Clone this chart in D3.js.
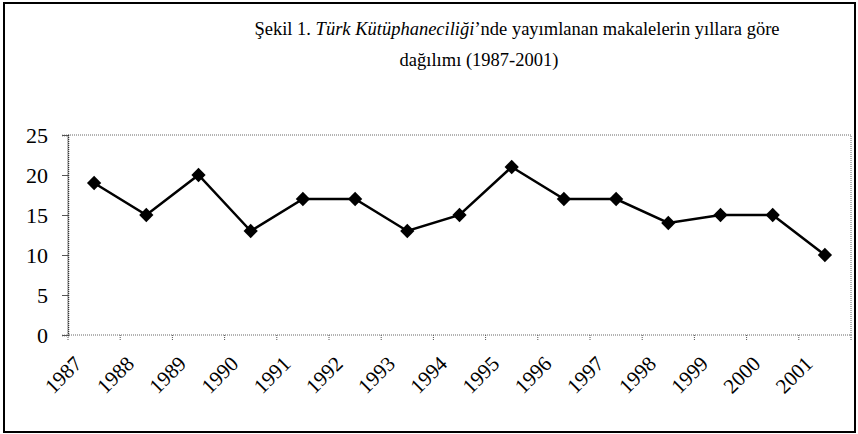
<!DOCTYPE html>
<html>
<head>
<meta charset="utf-8">
<script src="https://cdn.jsdelivr.net/npm/d3@7"></script>
<style>
  body { margin: 0; background: #fff; }
  svg text { font-family: "Liberation Serif", "Times New Roman", serif; fill: #000; }
</style>
</head>
<body>
<svg id="chart" width="858" height="434"></svg>
<script>
// data
var years = ['1987','1988','1989','1990','1991','1992','1993','1994','1995','1996','1997','1998','1999','2000','2001'];
var articles = [19, 15, 20, 13, 17, 17, 13, 15, 21, 17, 17, 14, 15, 15, 10];
var yTicks = [0, 5, 10, 15, 20, 25];

var svg = d3.select('#chart');
var svgWidth = +svg.attr('width');
var svgHeight = +svg.attr('height');

// outer frame
svg.append('rect')
    .attr('x', 4).attr('y', 3)
    .attr('width', svgWidth - 7).attr('height', svgHeight - 5)
    .attr('fill', 'none')
    .attr('stroke', '#000')
    .attr('stroke-width', 2);

// title (two lines)
var title = svg.append('text')
    .attr('text-anchor', 'middle')
    .attr('font-size', 18.5);
var line1 = title.append('tspan').attr('x', 517).attr('y', 35);
line1.append('tspan').text('Şekil 1. ');
line1.append('tspan').attr('font-style', 'italic').text('Türk Kütüphaneciliği');
line1.append('tspan').text('\u2019nde yayımlanan makalelerin yıllara göre');
title.append('tspan').attr('x', 479).attr('y', 66).text('dağılımı (1987-2001)');

var padding = {t: 135, r: 7, b: 99, l: 68};
var chartWidth = svgWidth - padding.l - padding.r;
var chartHeight = svgHeight - padding.t - padding.b;

var chartG = svg.append('g')
    .attr('transform', 'translate(' + [padding.l, padding.t] + ')');

var xScale = d3.scaleBand().domain(years).range([0, chartWidth]);
var yScale = d3.scaleLinear().domain([0, 25]).range([chartHeight, 0]);

// plot area border (dotted)
chartG.append('rect')
    .attr('width', chartWidth).attr('height', chartHeight)
    .attr('fill', 'none')
    .attr('stroke', '#666')
    .attr('stroke-dasharray', '1,1');

// y axis
var yAxis = d3.axisLeft(yScale).tickValues(yTicks).tickSize(6).tickPadding(14);
var yG = chartG.append('g').call(yAxis);
yG.select('.domain').attr('stroke', '#333').attr('stroke-dasharray', '1,1').attr('stroke-width', 1.5);
yG.selectAll('.tick line').attr('stroke', '#555');
yG.selectAll('.tick text')
    .attr('font-size', 22)
    .attr('font-family', '"Liberation Serif", serif');

// x axis ticks at band boundaries
var bounds = years.map(function(d) { return xScale(d); }).concat([chartWidth]);
chartG.selectAll('.xtick')
    .data(bounds)
    .enter().append('line')
    .attr('class', 'xtick')
    .attr('x1', function(d) { return d; })
    .attr('x2', function(d) { return d; })
    .attr('y1', chartHeight)
    .attr('y2', chartHeight + 5)
    .attr('stroke', '#555')
    .attr('stroke-dasharray', '1,1');

// x labels rotated
chartG.selectAll('.xlabel')
    .data(years)
    .enter().append('text')
    .attr('class', 'xlabel')
    .attr('text-anchor', 'end')
    .attr('font-size', 21)
    .attr('transform', function(d) {
        var x = xScale(d) + xScale.bandwidth() / 2 - 11;
        return 'translate(' + x + ',' + (chartHeight + 30) + ') rotate(-45)';
    })
    .text(function(d) { return d; });

// line
var pts = years.map(function(d, i) { return {year: d, value: articles[i]}; });
var line = d3.line()
    .x(function(d) { return xScale(d.year) + xScale.bandwidth() / 2; })
    .y(function(d) { return yScale(d.value); });

chartG.append('path')
    .datum(pts)
    .attr('d', line)
    .attr('fill', 'none')
    .attr('stroke', '#000')
    .attr('stroke-width', 2.5);

// diamond markers
chartG.selectAll('.marker')
    .data(pts)
    .enter().append('path')
    .attr('class', 'marker')
    .attr('d', d3.symbol().type(d3.symbolDiamond2).size(130))
    .attr('transform', function(d) {
        return 'translate(' + (xScale(d.year) + xScale.bandwidth() / 2) + ',' + yScale(d.value) + ')';
    })
    .attr('fill', '#000');
</script>
</body>
</html>
